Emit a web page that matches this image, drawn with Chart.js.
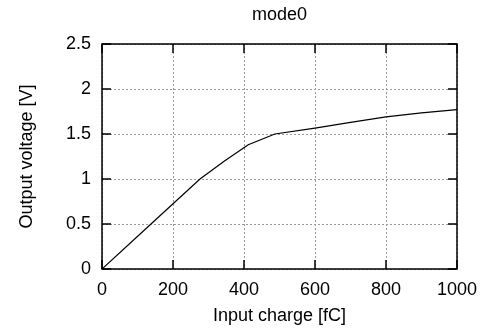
<!DOCTYPE html>
<html>
<head>
<meta charset="utf-8">
<script src="https://cdn.jsdelivr.net/npm/chart.js@4"></script>
<style>
  html, body { margin: 0; padding: 0; background: #fff; }
  #wrap { width: 481px; height: 330px; }
</style>
</head>
<body>
<div id="wrap"><canvas id="modeChart" width="481" height="330"></canvas></div>
<script>
// values
var charge = [0, 138, 276, 345, 412, 487, 600, 700, 800, 900, 1000];
var voltage = [0, 0.5, 1.0, 1.2, 1.38, 1.5, 1.565, 1.63, 1.69, 1.735, 1.77];
var xTicks = [0, 200, 400, 600, 800, 1000];
var yTicks = [0, 0.5, 1, 1.5, 2, 2.5];

var FONT = "'Liberation Sans', Arial, sans-serif";

// gnuplot style frame with inward ticks on all four sides
var frameTicks = {
  id: 'frameTicks',
  afterDraw: function(chart) {
    var ctx = chart.ctx, a = chart.chartArea;
    var xs = chart.scales.x, ys = chart.scales.y;
    var len = 9;
    ctx.save();
    ctx.strokeStyle = '#000';
    ctx.lineWidth = 1.5;
    ctx.strokeRect(a.left, a.top, a.right - a.left, a.bottom - a.top);
    ctx.beginPath();
    xTicks.forEach(function(v) {
      var px = xs.getPixelForValue(v);
      ctx.moveTo(px, a.bottom); ctx.lineTo(px, a.bottom - len);
      ctx.moveTo(px, a.top); ctx.lineTo(px, a.top + len);
    });
    yTicks.forEach(function(v) {
      var py = ys.getPixelForValue(v);
      ctx.moveTo(a.left, py); ctx.lineTo(a.left + len, py);
      ctx.moveTo(a.right, py); ctx.lineTo(a.right - len, py);
    });
    ctx.stroke();
    ctx.restore();
  }
};

var ctx = document.getElementById('modeChart').getContext('2d');
var chart = new Chart(ctx, {
  type: 'scatter',
  data: {
    datasets: [{
      data: charge.map(function(c, i) { return { x: c, y: voltage[i] }; }),
      showLine: true,
      borderColor: '#000',
      borderWidth: 1.2,
      pointRadius: 0,
      tension: 0
    }]
  },
  options: {
    responsive: false,
    animation: false,
    layout: { padding: { top: 0, right: 24, bottom: 0, left: 0 } },
    plugins: {
      legend: { display: false },
      tooltip: { enabled: false },
      title: {
        display: true,
        text: 'mode0',
        fullSize: false,
        color: '#000',
        font: { family: FONT, size: 18, weight: 'normal' },
        padding: { top: 4, bottom: 18.4 }
      }
    },
    scales: {
      x: {
        type: 'linear',
        min: 0, max: 1000,
        afterBuildTicks: function(s) { s.ticks = xTicks.map(function(v) { return { value: v }; }); },
        afterFit: function(s) { s.height = 61; s.paddingLeft = 0; s.paddingRight = 0; },
        ticks: {
          color: '#000',
          padding: 10,
          maxRotation: 0,
          font: { family: FONT, size: 18 },
          callback: function(v) { return String(v); }
        },
        grid: { color: '#999', lineWidth: 1, drawTicks: false },
        border: { display: false, dash: [2, 2] },
        title: {
          display: true,
          text: 'Input charge [fC]',
          color: '#000',
          font: { family: FONT, size: 18 },
          padding: { top: 3, bottom: 3 }
        }
      },
      y: {
        min: 0, max: 2.5,
        afterBuildTicks: function(s) { s.ticks = yTicks.map(function(v) { return { value: v }; }); },
        afterFit: function(s) { s.width = 102; s.paddingTop = 0; s.paddingBottom = 0; },
        ticks: {
          color: '#000',
          padding: 11,
          font: { family: FONT, size: 18 },
          callback: function(v) { return String(v); }
        },
        grid: { color: '#999', lineWidth: 1, drawTicks: false },
        border: { display: false, dash: [2, 2] },
        title: {
          display: true,
          text: 'Output voltage [V]',
          color: '#000',
          font: { family: FONT, size: 18 },
          padding: { top: 16, bottom: 16 }
        }
      }
    }
  },
  plugins: [frameTicks]
});
</script>
</body>
</html>
